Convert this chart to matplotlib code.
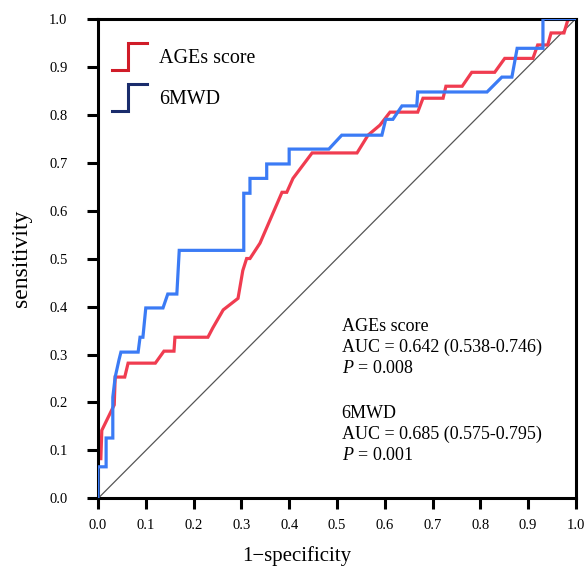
"""ROC curves: AGEs score vs 6MWD."""
import matplotlib
matplotlib.use("Agg")
import matplotlib.pyplot as plt
from matplotlib.legend_handler import HandlerBase
from matplotlib.lines import Line2D
import numpy as np

# ROC points (1-specificity, sensitivity)
ages_fpr = [0, 0, 0.006, 0.008, 0.034, 0.036, 0.056, 0.063, 0.12, 0.138, 0.159,
            0.161, 0.23, 0.24, 0.262, 0.293, 0.303, 0.311, 0.318, 0.339, 0.385,
            0.395, 0.408, 0.448, 0.542, 0.565, 0.59, 0.611, 0.669, 0.68, 0.722,
            0.728, 0.762, 0.782, 0.83, 0.851, 0.91, 0.92, 0.941, 0.948, 0.975,
            0.983, 1.0]
ages_tpr = [0, 0.083, 0.083, 0.142, 0.195, 0.253, 0.253, 0.282, 0.282, 0.307, 0.307,
            0.336, 0.336, 0.355, 0.393, 0.417, 0.475, 0.5, 0.5, 0.532, 0.638,
            0.638, 0.667, 0.72, 0.72, 0.757, 0.778, 0.805, 0.805, 0.834, 0.834,
            0.859, 0.859, 0.888, 0.888, 0.917, 0.917, 0.945, 0.945, 0.97, 0.97,
            0.997, 1.0]

mwd_fpr = [0, 0, 0.017, 0.017, 0.031, 0.031, 0.036, 0.044, 0.048, 0.084, 0.088,
           0.094, 0.10, 0.136, 0.146, 0.165, 0.17, 0.305, 0.305, 0.318, 0.318,
           0.353, 0.353, 0.40, 0.40, 0.483, 0.51, 0.594, 0.602, 0.617, 0.636,
           0.667, 0.669, 0.814, 0.845, 0.866, 0.877, 0.931, 0.931, 1.0]
mwd_tpr = [0, 0.066, 0.066, 0.126, 0.126, 0.211, 0.253, 0.289, 0.305, 0.305, 0.336,
           0.336, 0.397, 0.397, 0.426, 0.426, 0.517, 0.517, 0.636, 0.636, 0.667,
           0.667, 0.697, 0.697, 0.728, 0.728, 0.757, 0.757, 0.79, 0.79, 0.818,
           0.818, 0.847, 0.847, 0.878, 0.878, 0.938, 0.938, 1.0, 1.0]

series_names = ["AGEs score", "6MWD"]
auc_text = ["AUC = 0.642 (0.538-0.746)", "AUC = 0.685 (0.575-0.795)"]
p_text = ["0.008", "0.001"]

LINE_COLORS = {"AGEs score": "#f03c50", "6MWD": "#3b7bf5"}
LEGEND_COLORS = {"AGEs score": "#d01c28", "6MWD": "#1a2c6c"}


class StepHandler(HandlerBase):
    """Legend glyph drawn as a small step."""

    def create_artists(self, legend, orig_handle, xdescent, ydescent, width,
                       height, fontsize, trans):
        x0, y0 = -xdescent, -ydescent
        xs = [x0, x0 + 0.45 * width, x0 + 0.45 * width, x0 + width]
        ys = [y0 - 0.45 * height, y0 - 0.45 * height,
              y0 + 1.45 * height, y0 + 1.45 * height]
        line = Line2D(xs, ys, color=orig_handle.get_color(),
                      lw=orig_handle.get_linewidth(), transform=trans,
                      solid_joinstyle="miter")
        return [line]


plt.rcParams.update({
    "font.family": ["Liberation Serif", "DejaVu Serif"],
    "mathtext.fontset": "custom",
    "mathtext.rm": "Liberation Serif",
    "mathtext.it": "Liberation Serif:italic",
})

fig = plt.figure(figsize=(5.85, 5.71), dpi=100)
ax = fig.add_axes([0.1675, 0.127, 0.817, 0.8405])

ax.plot([0, 1], [0, 1], color="#555555", lw=0.9, zorder=1)
ax.plot(ages_fpr, ages_tpr, color=LINE_COLORS["AGEs score"], lw=2.3,
        solid_joinstyle="miter", zorder=2)
ax.plot(mwd_fpr, mwd_tpr, color=LINE_COLORS["6MWD"], lw=2.3,
        solid_joinstyle="miter", zorder=3)

ax.set_xlim(0, 1)
ax.set_ylim(0, 1)
ticks = np.round(np.arange(0, 1.01, 0.1), 1)
ax.set_xticks(ticks)
ax.set_yticks(ticks)
ax.set_xticklabels([f"{t:.1f}" for t in ticks])
ax.set_yticklabels([f"{t:.1f}" for t in ticks])
ax.tick_params(axis="both", direction="out", length=8, width=2.2, labelsize=10.5)
ax.tick_params(axis="x", pad=7)
ax.tick_params(axis="y", pad=14)
for sp in ax.spines.values():
    sp.set_linewidth(2.2)

ax.set_xlabel("1\u2212specificity", fontsize=15, labelpad=10, x=0.416)
ax.set_ylabel("sensitivity", fontsize=17, labelpad=12)

handles = [Line2D([], [], color=LEGEND_COLORS[n], lw=2.2) for n in series_names]
ax.legend(handles, series_names, loc="upper left", frameon=False, fontsize=14.4,
          handler_map={Line2D: StepHandler()}, handlelength=1.75,
          handletextpad=0.6, labelspacing=1.1, borderaxespad=0.3,
          bbox_to_anchor=(0.0, 0.965))

# AUC annotations
y0 = 0.359
for i, name in enumerate(series_names):
    yy = y0 - i * 0.182
    ax.text(0.51, yy, name, fontsize=13, va="center", ha="left")
    ax.text(0.51, yy - 0.044, auc_text[i], fontsize=13, va="center", ha="left")
    ax.text(0.51, yy - 0.088, f"$P$ = {p_text[i]}", fontsize=13,
            va="center", ha="left")

fig.savefig("out.png", dpi=100)
plt.close(fig)
